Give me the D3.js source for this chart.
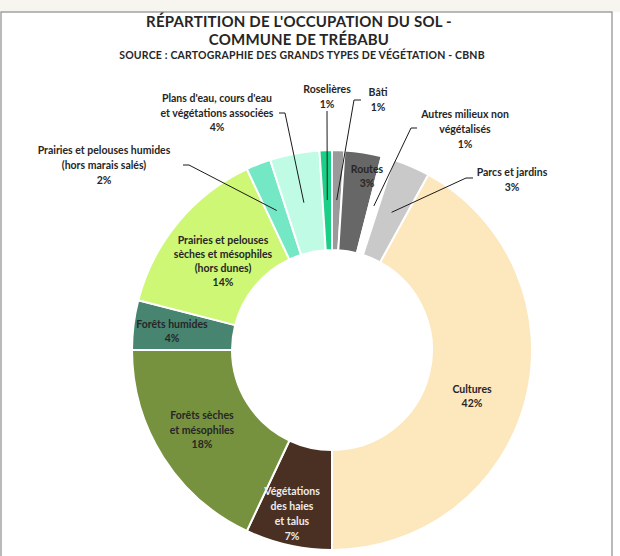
<!DOCTYPE html>
<html>
<head>
<meta charset="utf-8">
<script src="https://cdn.jsdelivr.net/npm/d3@7"></script>
<style>
  html, body { margin: 0; padding: 0; background: #ffffff; }
  svg { display: block; }
  text { font-family: Lato, "Open Sans", sans-serif; font-weight: bold; }
</style>
</head>
<body>
<svg id="chart" width="620" height="556"></svg>
<script>
// Land-cover categories, in drawing order (clockwise from 12 o'clock)
const categories = [
  "Bâti",
  "Routes",
  "Autres milieux non végétalisés",
  "Parcs et jardins",
  "Cultures",
  "Végétations des haies et talus",
  "Forêts sèches et mésophiles",
  "Forêts humides",
  "Prairies et pelouses sèches et mésophiles (hors dunes)",
  "Prairies et pelouses humides (hors marais salés)",
  "Plans d'eau, cours d'eau et végétations associées",
  "Roselières"
];

// Share of the commune's area, in percent
const values = [1, 3, 1, 3, 42, 7, 18, 4, 14, 2, 4, 1];

// Label text, split into lines
const labelLines = [
  ["Bâti"],
  ["Routes"],
  ["Autres milieux non", "végétalisés"],
  ["Parcs et jardins"],
  ["Cultures"],
  ["Végétations", "des haies", "et talus"],
  ["Forêts sèches", "et mésophiles"],
  ["Forêts humides"],
  ["Prairies et pelouses", "sèches et mésophiles", "(hors dunes)"],
  ["Prairies et pelouses humides", "(hors marais salés)"],
  ["Plans d'eau, cours d'eau", "et végétations associées"],
  ["Roselières"]
];

const titleLines = ["RÉPARTITION DE L'OCCUPATION DU SOL -", "COMMUNE DE TRÉBABU"];
const subtitle = "SOURCE : CARTOGRAPHIE DES GRANDS TYPES DE VÉGÉTATION - CBNB";

// Slice fills
const palette = [
  "#9a9a9a", "#676767", "#ffffff", "#c9c9c9", "#fde7bd", "#4a3022",
  "#76923f", "#478571", "#cdf774", "#74e8c4", "#c0fbe5", "#1bcf87"
];

// Label placement: text centre x, first baseline y, line spacing,
// and for outside labels the start/elbow of the leader line
const layout = {
  "Bâti": { x: 378, y: 96, lh: 15, lead: [[361, 100], [354, 100]] },
  "Routes": { x: 367, y: 173, lh: 14, inside: true },
  "Autres milieux non végétalisés": { x: 465, y: 118, lh: 15, lead: [[417, 128], [411, 128]] },
  "Parcs et jardins": { x: 512, y: 176, lh: 15, lead: [[473, 178], [466, 178]] },
  "Cultures": { x: 472, y: 393, lh: 14, inside: true },
  "Végétations des haies et talus": { x: 292, y: 495, lh: 15, inside: true, fill: "#ececec" },
  "Forêts sèches et mésophiles": { x: 202, y: 419, lh: 14.5, inside: true },
  "Forêts humides": { x: 172, y: 328, lh: 14, inside: true },
  "Prairies et pelouses sèches et mésophiles (hors dunes)": { x: 223, y: 244, lh: 14, inside: true },
  "Prairies et pelouses humides (hors marais salés)": { x: 104, y: 154, lh: 15, lead: [[183, 165], [189, 165]] },
  "Plans d'eau, cours d'eau et végétations associées": { x: 217, y: 102, lh: 14.5, lead: [[279, 113], [285, 113]] },
  "Roselières": { x: 327, y: 93, lh: 15, lead: [[327, 111]] }
};

const svg = d3.select("#chart");
const W = 620, H = 556;

// Frame with a light strip above it
svg.append("rect").attr("x", 0).attr("y", 0).attr("width", W).attr("height", 12).attr("fill", "#f7f5f0");
svg.append("rect").attr("x", 1).attr("y", 12).attr("width", 611).attr("height", H)
  .attr("fill", "#ffffff").attr("stroke", "#8c8c8c").attr("stroke-width", 1.2);

// Titles
const titleG = svg.append("g").attr("text-anchor", "middle").attr("fill", "#262626");
titleG.selectAll("text.title").data(titleLines).join("text")
  .attr("class", "title")
  .attr("x", 299)
  .attr("y", (d, i) => 27 + i * 18)
  .attr("font-size", 15)
  .attr("letter-spacing", 0.2)
  .text(d => d);
titleG.append("text")
  .attr("x", 302).attr("y", 59)
  .attr("font-size", 10.5)
  .attr("letter-spacing", 0.2)
  .text(subtitle);

// Doughnut
const cx = 332, cy = 350, rInner = 100, rOuter = 200;
const g = svg.append("g").attr("transform", `translate(${cx},${cy})`);

const color = d3.scaleOrdinal().domain(categories).range(palette);
const pie = d3.pie().sort(null).value(d => d.value).startAngle(0).endAngle(2 * Math.PI);
const rows = categories.map((c, i) => ({ name: c, value: values[i], lines: labelLines[i] }));
const arcs = pie(rows);

const arc = d3.arc().innerRadius(rInner).outerRadius(rOuter);
const midArc = d3.arc().innerRadius(150).outerRadius(150);

g.selectAll("path.slice").data(arcs).join("path")
  .attr("class", "slice")
  .attr("d", arc)
  .attr("fill", d => color(d.data.name))
  .attr("stroke", "#ffffff")
  .attr("stroke-width", 2);

// Leader lines for labels placed outside the ring
const lineGen = d3.line();
arcs.forEach(d => {
  const L = layout[d.data.name];
  if (!L.lead) return;
  const c = midArc.centroid(d);
  const end = [cx + c[0], cy + c[1]];
  svg.append("path")
    .attr("d", lineGen(L.lead.concat([end])))
    .attr("fill", "none")
    .attr("stroke", "#1a1a1a")
    .attr("stroke-width", 1);
});

// Labels: name lines + percentage
const labelG = svg.append("g").attr("text-anchor", "middle").attr("font-size", 10.5);
arcs.forEach(d => {
  const L = layout[d.data.name];
  const lines = d.data.lines.concat([d.data.value + "%"]);
  const t = labelG.append("text").attr("fill", L.fill || "#262626");
  lines.forEach((s, i) => {
    t.append("tspan").attr("x", L.x).attr("y", L.y + i * L.lh).text(s);
  });
});
</script>
</body>
</html>
